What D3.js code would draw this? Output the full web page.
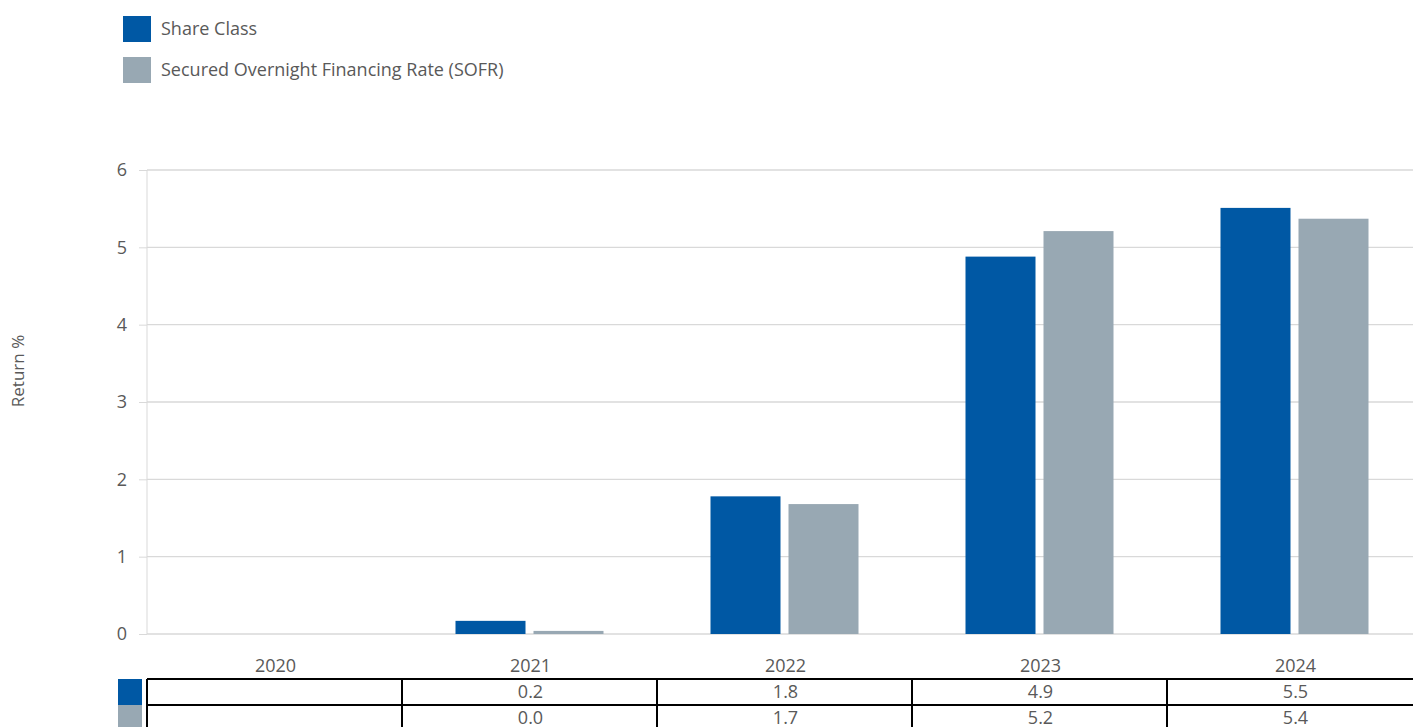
<!DOCTYPE html>
<html>
<head>
<meta charset="utf-8">
<script src="https://cdn.jsdelivr.net/npm/d3@7"></script>
<style>
  body { margin: 0; background: #fff; }
  text { font-family: "Open Sans", "Noto Sans", sans-serif; fill: #595959; }
</style>
</head>
<body>
<div class="chart"></div>
<script>
// chart data
let years = ["2020", "2021", "2022", "2023", "2024"];
let seriesNames = ["Share Class", "Secured Overnight Financing Rate (SOFR)"];
let shareClass = [null, 0.17, 1.78, 4.88, 5.51];
let sofr = [null, 0.04, 1.68, 5.21, 5.37];
let shareClassLabels = ["", "0.2", "1.8", "4.9", "5.5"];
let sofrLabels = ["", "0.0", "1.7", "5.2", "5.4"];
let yTicks = [0, 1, 2, 3, 4, 5, 6];

let colors = ["#0058a4", "#98a8b3"];

let chart = {};
chart.width = 1413;
chart.height = 727;
chart.margin = { top: 170, left: 147, bottom: 634 };

let svg = d3.select(".chart").append("svg")
    .attr("width", chart.width)
    .attr("height", chart.height);

let x = d3.scaleBand()
    .domain(years)
    .range([chart.margin.left + 1, chart.margin.left + 1 + 255 * years.length]);

let y = d3.scaleLinear()
    .domain([0, 6])
    .range([chart.margin.bottom, chart.margin.top]);

// gridlines + y axis
let yAxis = svg.append("g")
    .attr("transform", `translate(${chart.margin.left},0)`)
    .call(d3.axisLeft(y).tickValues(yTicks).tickSize(8).tickPadding(12).tickFormat(d3.format("d")));
yAxis.select(".domain").attr("stroke", "#d9d9d9").attr("d", `M0,${chart.margin.top}V${chart.margin.bottom}`);
yAxis.selectAll(".tick line").attr("stroke", "#d9d9d9");
yAxis.selectAll(".tick text").attr("font-size", 18).style("fill", "#595959")
    .attr("font-family", "'Open Sans', sans-serif");

svg.append("g").selectAll("line")
    .data(yTicks)
    .enter().append("line")
    .attr("x1", chart.margin.left)
    .attr("x2", chart.width)
    .attr("y1", d => y(d))
    .attr("y2", d => y(d))
    .attr("stroke", "#d9d9d9")
    .attr("stroke-width", 1.3);

svg.append("text")
    .attr("transform", "translate(24,371) rotate(-90)")
    .attr("text-anchor", "middle")
    .attr("font-size", 17)
    .text("Return %");

// bars
let barW = 70;
let series = [shareClass, sofr];
let offsets = [-75, 3];

series.forEach((vals, i) => {
    svg.append("g").selectAll("rect")
        .data(years.map((yr, j) => ({ yr: yr, v: vals[j] })).filter(d => d.v !== null))
        .enter().append("rect")
        .attr("x", d => x(d.yr) + x.bandwidth() / 2 + offsets[i])
        .attr("y", d => y(d.v))
        .attr("width", barW)
        .attr("height", d => y(0) - y(d.v))
        .attr("fill", colors[i]);
});

// category labels
svg.append("g").selectAll("text")
    .data(years)
    .enter().append("text")
    .attr("x", d => x(d) + x.bandwidth() / 2)
    .attr("y", 672)
    .attr("text-anchor", "middle")
    .attr("font-size", 18)
    .text(d => d);

// data table
let tableTop = 679;
let rowH = 26;
let tableLabels = [shareClassLabels, sofrLabels];

tableLabels.forEach((labels, i) => {
    svg.append("rect")
        .attr("x", 118)
        .attr("y", tableTop + i * rowH)
        .attr("width", 24)
        .attr("height", rowH)
        .attr("fill", colors[i]);

    svg.append("g").selectAll("text")
        .data(years)
        .enter().append("text")
        .attr("x", d => x(d) + x.bandwidth() / 2)
        .attr("y", tableTop + i * rowH + 19)
        .attr("text-anchor", "middle")
        .attr("font-size", 18)
        .text((d, j) => labels[j]);
});

let tableG = svg.append("g").attr("stroke", "#000").attr("stroke-width", 2);
[0, 1, 2].forEach(r => {
    tableG.append("line")
        .attr("x1", chart.margin.left)
        .attr("x2", chart.width)
        .attr("y1", tableTop + r * rowH)
        .attr("y2", tableTop + r * rowH);
});
tableG.selectAll(".col")
    .data(years)
    .enter().append("line")
    .attr("x1", d => x(d) - 1)
    .attr("x2", d => x(d) - 1)
    .attr("y1", tableTop)
    .attr("y2", chart.height);

// legend
let legend = svg.append("g").selectAll("g")
    .data(seriesNames)
    .enter().append("g")
    .attr("transform", (d, i) => `translate(123,${16 + i * 41})`);

legend.append("rect")
    .attr("width", 28)
    .attr("height", 26)
    .attr("fill", (d, i) => colors[i]);

legend.append("text")
    .attr("x", 38)
    .attr("y", 19)
    .attr("font-size", 18)
    .text(d => d);
</script>
</body>
</html>
